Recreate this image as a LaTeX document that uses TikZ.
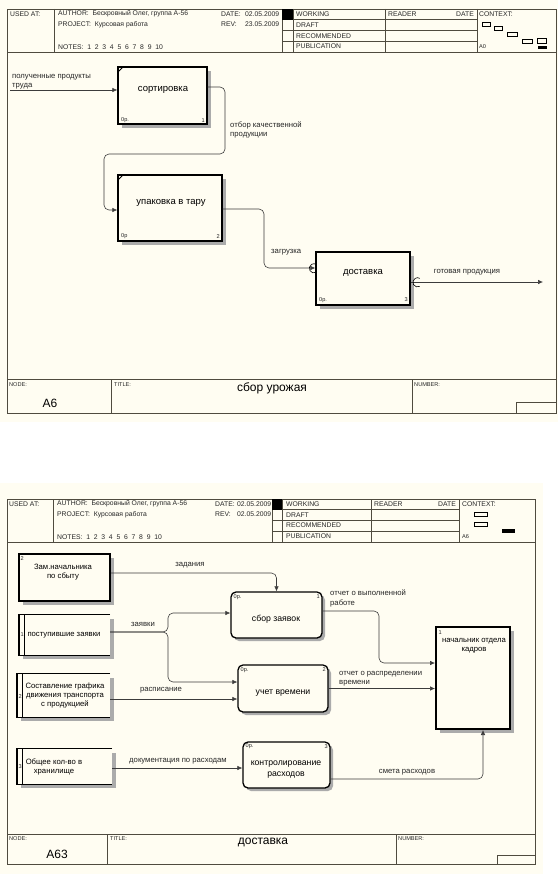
\documentclass[tikz,border=0pt]{standalone}
\usepackage{fontspec}
\setmainfont{Liberation Sans}
\usetikzlibrary{arrows.meta,shadows}
\definecolor{cream}{HTML}{FFFDF2}
\definecolor{frm}{HTML}{4F4B3F}
\definecolor{shd}{HTML}{ABABAB}
\definecolor{wire}{HTML}{3C3C3C}
\tikzset{
  fr/.style={draw=frm, line width=0.7pt},
  hd/.style={font=\fontsize{6.8}{8}\selectfont, anchor=west, inner sep=0pt, text=black!85},
  sm/.style={font=\fontsize{5.6}{6.5}\selectfont, anchor=west, inner sep=0pt, text=black!85},
  big/.style={font=\fontsize{12}{14}\selectfont, inner sep=0pt},
  lab/.style={font=\fontsize{7.7}{9.3}\selectfont, inner sep=0pt, align=left, text=black!85},
  shad/.style={drop shadow={shadow xshift=4pt, shadow yshift=-4pt, fill=shd, opacity=1}},
  actbox/.style={draw=black, line width=1.3pt, fill=cream, shad},
  procbox/.style={draw=black, line width=1.3pt, fill=cream, rounded corners=5pt,
    drop shadow={shadow xshift=3pt, shadow yshift=-3pt, fill=shd, opacity=1}},
  extbox/.style={draw=black, line width=2pt, fill=cream, shad},
  storebox/.style={fill=cream, shad},
  wr/.style={draw=wire, line width=0.6pt, rounded corners=5pt, -{Latex[length=5pt,width=4.5pt]}},
  ttl/.style={font=\fontsize{9.5}{11}\selectfont, inner sep=0pt, align=center},
  ttb/.style={font=\fontsize{8.7}{10.5}\selectfont, inner sep=0pt, align=center},
  tts/.style={font=\fontsize{7.7}{9}\selectfont, inner sep=0pt, align=center},
  ctx/.style={draw=black, line width=0.35pt},
}
\begin{document}
\begin{tikzpicture}[x=1pt,y=-1pt]
\useasboundingbox (0,0) rectangle (558,874);
\fill[white] (0,0) rectangle (558,874);

% ================= TOP DIAGRAM =================
\fill[cream] (0,0) rectangle (558,422);
\draw[fr] (7,9) rectangle (556,413);
\draw[fr] (7,52) -- (556,52);
\draw[fr] (54,9) -- (54,52) (282,9) -- (282,52) (293,9) -- (293,52) (385,9) -- (385,52) (477,9) -- (477,52);
\draw[fr] (282,19.75) -- (477,19.75) (282,30.5) -- (477,30.5) (282,41.25) -- (477,41.25);

\node[hd] (a-used) at (10,14) {USED AT:};
\node[hd] (a-auth) at (58,14) {AUTHOR:\ \ Бескровный Олег, группа А-56};
\node[hd] (a-proj) at (58,24.5) {PROJECT:\ \ Курсовая работа};
\node[hd] (a-notes) at (58,47) {NOTES:\ \ 1\ \ 2\ \ 3\ \ 4\ \ 5\ \ 6\ \ 7\ \ 8\ \ 9\ \ 10};
\node[hd] (a-date) at (221,14) {DATE:};
\node[hd] (a-datev) at (245,14) {02.05.2009};
\node[hd] (a-rev) at (221,24.5) {REV:};
\node[hd] (a-revv) at (245,24.5) {23.05.2009};
\fill[black] (282,9) rectangle (293,19.75);
\node[hd] (a-w) at (296,14) {WORKING};
\node[hd] (a-d) at (296,25) {DRAFT};
\node[hd] (a-r) at (296,36) {RECOMMENDED};
\node[hd] (a-p) at (296,46.5) {PUBLICATION};
\node[hd] (a-reader) at (388,14) {READER};
\node[hd, anchor=east] (a-date2) at (474,14) {DATE};
\node[hd] (a-ctx) at (479,14) {CONTEXT:};
\node[sm] (a-a0) at (479,47) {A0};
\draw[ctx] (482,22.5) rectangle (490,25.9);
\draw[ctx] (494,26.5) rectangle (502,29.9);
\draw[ctx] (507,32.5) rectangle (517,35.9);
\draw[ctx] (522,39.3) rectangle (532,42.7);
\draw[ctx] (537,38) rectangle (546,42.7);
\fill[black] (538,45.7) rectangle (547,49.3);

% title block
\draw[fr] (7,379) -- (556,379);
\draw[fr] (111,379) -- (111,413) (412,379) -- (412,413);
\draw[fr] (516,402) rectangle (556,413);
\node[sm] (a-node) at (9,385) {NODE:};
\node[big] (a-nodev) at (50,403.5) {A6};
\node[sm] (a-title) at (114,385) {TITLE:};
\node[big] (a-titlev) at (272,388) {сбор урожая};
\node[sm] (a-num) at (414,385) {NUMBER:};

% activity boxes
\node[actbox, minimum width=89pt, minimum height=57pt] (sort) at (162.5,95.5) {};
\node[ttl] (sort-t) at (163,90) {сортировка};
\node[sm] (sort-o) at (121,120.5) {0р.};
\node[sm, anchor=east] (sort-n) at (205,120.5) {1};
\draw[black, line width=0.8pt] (118,72) -- (123,67);

\node[actbox, minimum width=104pt, minimum height=66pt] (pack) at (170,208) {};
\node[ttl] (pack-t) at (171,203) {упаковка в тару};
\node[sm] (pack-o) at (121,236.5) {0р};
\node[sm, anchor=east] (pack-n) at (220,236.5) {2};
\draw[black, line width=0.8pt] (118,180) -- (123,175);

\node[actbox, minimum width=94pt, minimum height=53pt] (deliv) at (363,278.5) {};
\node[ttl] (deliv-t) at (363,273) {доставка};
\node[sm] (deliv-o) at (319,300) {0р.};
\node[sm, anchor=east] (deliv-n) at (408,300) {3};

% arrows top
\coordinate (in1) at (10,90);
\draw[wr] (in1) -- (in1 -| sort.west);
\node[lab, anchor=west] (l-in1) at (12,81.5) {полученные продукты\\труда};

\draw[wr] ([yshift=8.5pt]sort.east) -- (225,87) -- (225,154) -- (104,154) -- (104,210) -- ([yshift=-2pt]pack.west);
\node[lab, anchor=west] (l-otb) at (230,130) {отбор качественной\\продукции};

\draw[wr] ([yshift=-1pt]pack.east) -- (264,209) -- (264,268) -- ([yshift=10.5pt]deliv.west);
\node[lab, anchor=west] (l-zag) at (271,252) {загрузка};

\coordinate (out1) at (543,282);
\draw[wr] ([yshift=-3.5pt]deliv.east) -- (out1);
\node[lab] (l-got) at (467,272) {готовая продукция};

% tunnels
\draw[black, line width=0.6pt] (316.2,272.3) arc[start angle=60, end angle=300, radius=4.6];
\draw[black, line width=0.6pt] (419.8,286.3) arc[start angle=60, end angle=300, radius=4.6];

% ================= BOTTOM DIAGRAM =================
\fill[cream] (0,483) rectangle (543,874);
\draw[fr] (7,499) rectangle (535,864);
\draw[fr] (7,542) -- (535,542);
\draw[fr] (53,499) -- (53,542) (272,499) -- (272,542) (282,499) -- (282,542) (371,499) -- (371,542) (459,499) -- (459,542);
\draw[fr] (272,509.75) -- (459,509.75) (272,520.5) -- (459,520.5) (272,531.25) -- (459,531.25);

\node[hd] (b-used) at (9,504) {USED AT:};
\node[hd] (b-auth) at (57,504) {AUTHOR:\ \ Бескровный Олег, группа А-56};
\node[hd] (b-proj) at (57,514.5) {PROJECT:\ \ Курсовая работа};
\node[hd] (b-notes) at (57,537) {NOTES:\ \ 1\ \ 2\ \ 3\ \ 4\ \ 5\ \ 6\ \ 7\ \ 8\ \ 9\ \ 10};
\node[hd] (b-date) at (215,504) {DATE:};
\node[hd] (b-datev) at (237,504) {02.05.2009};
\node[hd] (b-rev) at (215,514.5) {REV:};
\node[hd] (b-revv) at (237,514.5) {02.05.2009};
\fill[black] (272,499) rectangle (282,509.75);
\node[hd] (b-w) at (286,504.5) {WORKING};
\node[hd] (b-d) at (286,515) {DRAFT};
\node[hd] (b-r) at (286,525.5) {RECOMMENDED};
\node[hd] (b-p) at (286,536.5) {PUBLICATION};
\node[hd] (b-reader) at (374,504.5) {READER};
\node[hd, anchor=east] (b-date2) at (456,504.5) {DATE};
\node[hd] (b-ctx) at (462,504.5) {CONTEXT:};
\node[sm] (b-a6) at (462,537) {A6};
\draw[ctx] (474,511.7) rectangle (487,515.7);
\draw[ctx] (474,521.7) rectangle (487,526);
\fill[black] (502,529) rectangle (515,532.5);

% title block
\draw[fr] (7,834) -- (535,834);
\draw[fr] (107,834) -- (107,864) (396,834) -- (396,864);
\draw[fr] (497,855) rectangle (535,864);
\node[sm] (b-node) at (9,838.5) {NODE:};
\node[big] (b-nodev) at (57,854) {A63};
\node[sm] (b-title) at (110,838.5) {TITLE:};
\node[big] (b-titlev) at (263,842) {доставка};
\node[sm] (b-num) at (398,838.5) {NUMBER:};

% external entities
\node[extbox, minimum width=91pt, minimum height=47pt] (zam) at (64.5,577.5) {};
\node[tts] (zam-t) at (63,572.5) {Зам.начальника\\по сбыту};
\node[sm] (zam-n) at (20.5,558.5) {2};

\node[extbox, minimum width=74pt, minimum height=102pt] (nach) at (473,678) {};
\node[tts] (nach-t) at (474,646) {начальник отдела\\кадров};
\node[sm] (nach-n) at (438.5,632.5) {1};

% data stores
\node[storebox, minimum width=91pt, minimum height=40pt] (ds1) at (64.5,635) {};
\draw[black, line width=0.9pt] (ds1.north east) -- (ds1.north west) -- (ds1.south west) -- (ds1.south east);
\draw[black, line width=1.8pt] (ds1.north west) -- (ds1.south west);
\draw[black, line width=0.9pt] ([xshift=6pt]ds1.north west) -- ([xshift=6pt]ds1.south west);
\node[sm] (ds1-n) at (20.5,635) {1};
\node[tts] (ds1-t) at (64,635) {поступившие заявки};

\node[storebox, minimum width=93pt, minimum height=43pt] (ds2) at (63.5,695.5) {};
\draw[black, line width=0.9pt] (ds2.north east) -- (ds2.north west) -- (ds2.south west) -- (ds2.south east);
\draw[black, line width=1.8pt] (ds2.north west) -- (ds2.south west);
\draw[black, line width=0.9pt] ([xshift=6pt]ds2.north west) -- ([xshift=6pt]ds2.south west);
\node[sm] (ds2-n) at (18.5,697) {2};
\node[tts] (ds2-t) at (65,696) {Составление графика\\движения транспорта\\с продукцией};

\node[storebox, minimum width=95pt, minimum height=35pt] (ds3) at (64.5,766.5) {};
\draw[black, line width=0.9pt] (ds3.north east) -- (ds3.north west) -- (ds3.south west) -- (ds3.south east);
\draw[black, line width=1.8pt] (ds3.north west) -- (ds3.south west);
\draw[black, line width=0.9pt] ([xshift=5.5pt]ds3.north west) -- ([xshift=5.5pt]ds3.south west);
\node[sm] (ds3-n) at (18.5,766.5) {3};
\node[tts] (ds3-t) at (54,766.5) {Общее кол-во в\\хранилище};

% processes
\node[procbox, minimum width=91pt, minimum height=46pt] (p1) at (276.5,615) {};
\node[ttb] (p1-t) at (276,619) {сбор заявок};
\node[sm] (p1-o) at (233.5,597) {0р.};
\node[sm, anchor=east] (p1-n) at (320,597) {1};

\node[procbox, minimum width=90pt, minimum height=47pt] (p2) at (283,688.5) {};
\node[ttb] (p2-t) at (283,693) {учет времени};
\node[sm] (p2-o) at (240.5,670) {0р.};
\node[sm, anchor=east] (p2-n) at (326,670) {2};

\node[procbox, minimum width=87pt, minimum height=46pt] (p3) at (286.5,765) {};
\node[ttb] (p3-t) at (286,769.5) {контролирование\\расходов};
\node[sm] (p3-o) at (245.5,746.5) {0р.};
\node[sm, anchor=east] (p3-n) at (328,746.5) {3};

% arrows bottom
\draw[wr] ([yshift=4.5pt]zam.east) -| (p1.north);
\node[lab] (l-zad) at (190,565) {задания};

\draw[wr] ([yshift=3pt]ds1.east) -- (168,632) -- (168,613) -- ([yshift=2pt]p1.west);
\draw[wr] ([yshift=3pt]ds1.east) -- (168,632) -- (168,682) -- ([yshift=6.5pt]p2.west);
\node[lab] (l-zay) at (143,624) {заявки};

\draw[wr] ([yshift=-3.5pt]ds2.east) -- ([yshift=-10.5pt]p2.west);
\node[lab] (l-ras) at (161,690) {расписание};

\draw[wr] ([yshift=4pt]p1.east) -- (379,611) -- (379,663) -- ([yshift=15pt]nach.west);
\node[lab, anchor=west] (l-ovr) at (330,598.5) {отчет о выполненной\\работе};

\draw[wr] (p2.east) -- (p2.east -| nach.west);
\node[lab, anchor=west] (l-orv) at (339,678.5) {отчет о распределении\\времени};

\draw[wr] ([yshift=-1.5pt]ds3.east) -- ([yshift=-3pt]p3.west);
\node[lab] (l-doc) at (178,761) {документация по расходам};

\draw[wr] ([yshift=-14pt]p3.east) -| ([xshift=10pt]nach.south);
\node[lab] (l-sme) at (407,772) {смета расходов};

\end{tikzpicture}
\end{document}
